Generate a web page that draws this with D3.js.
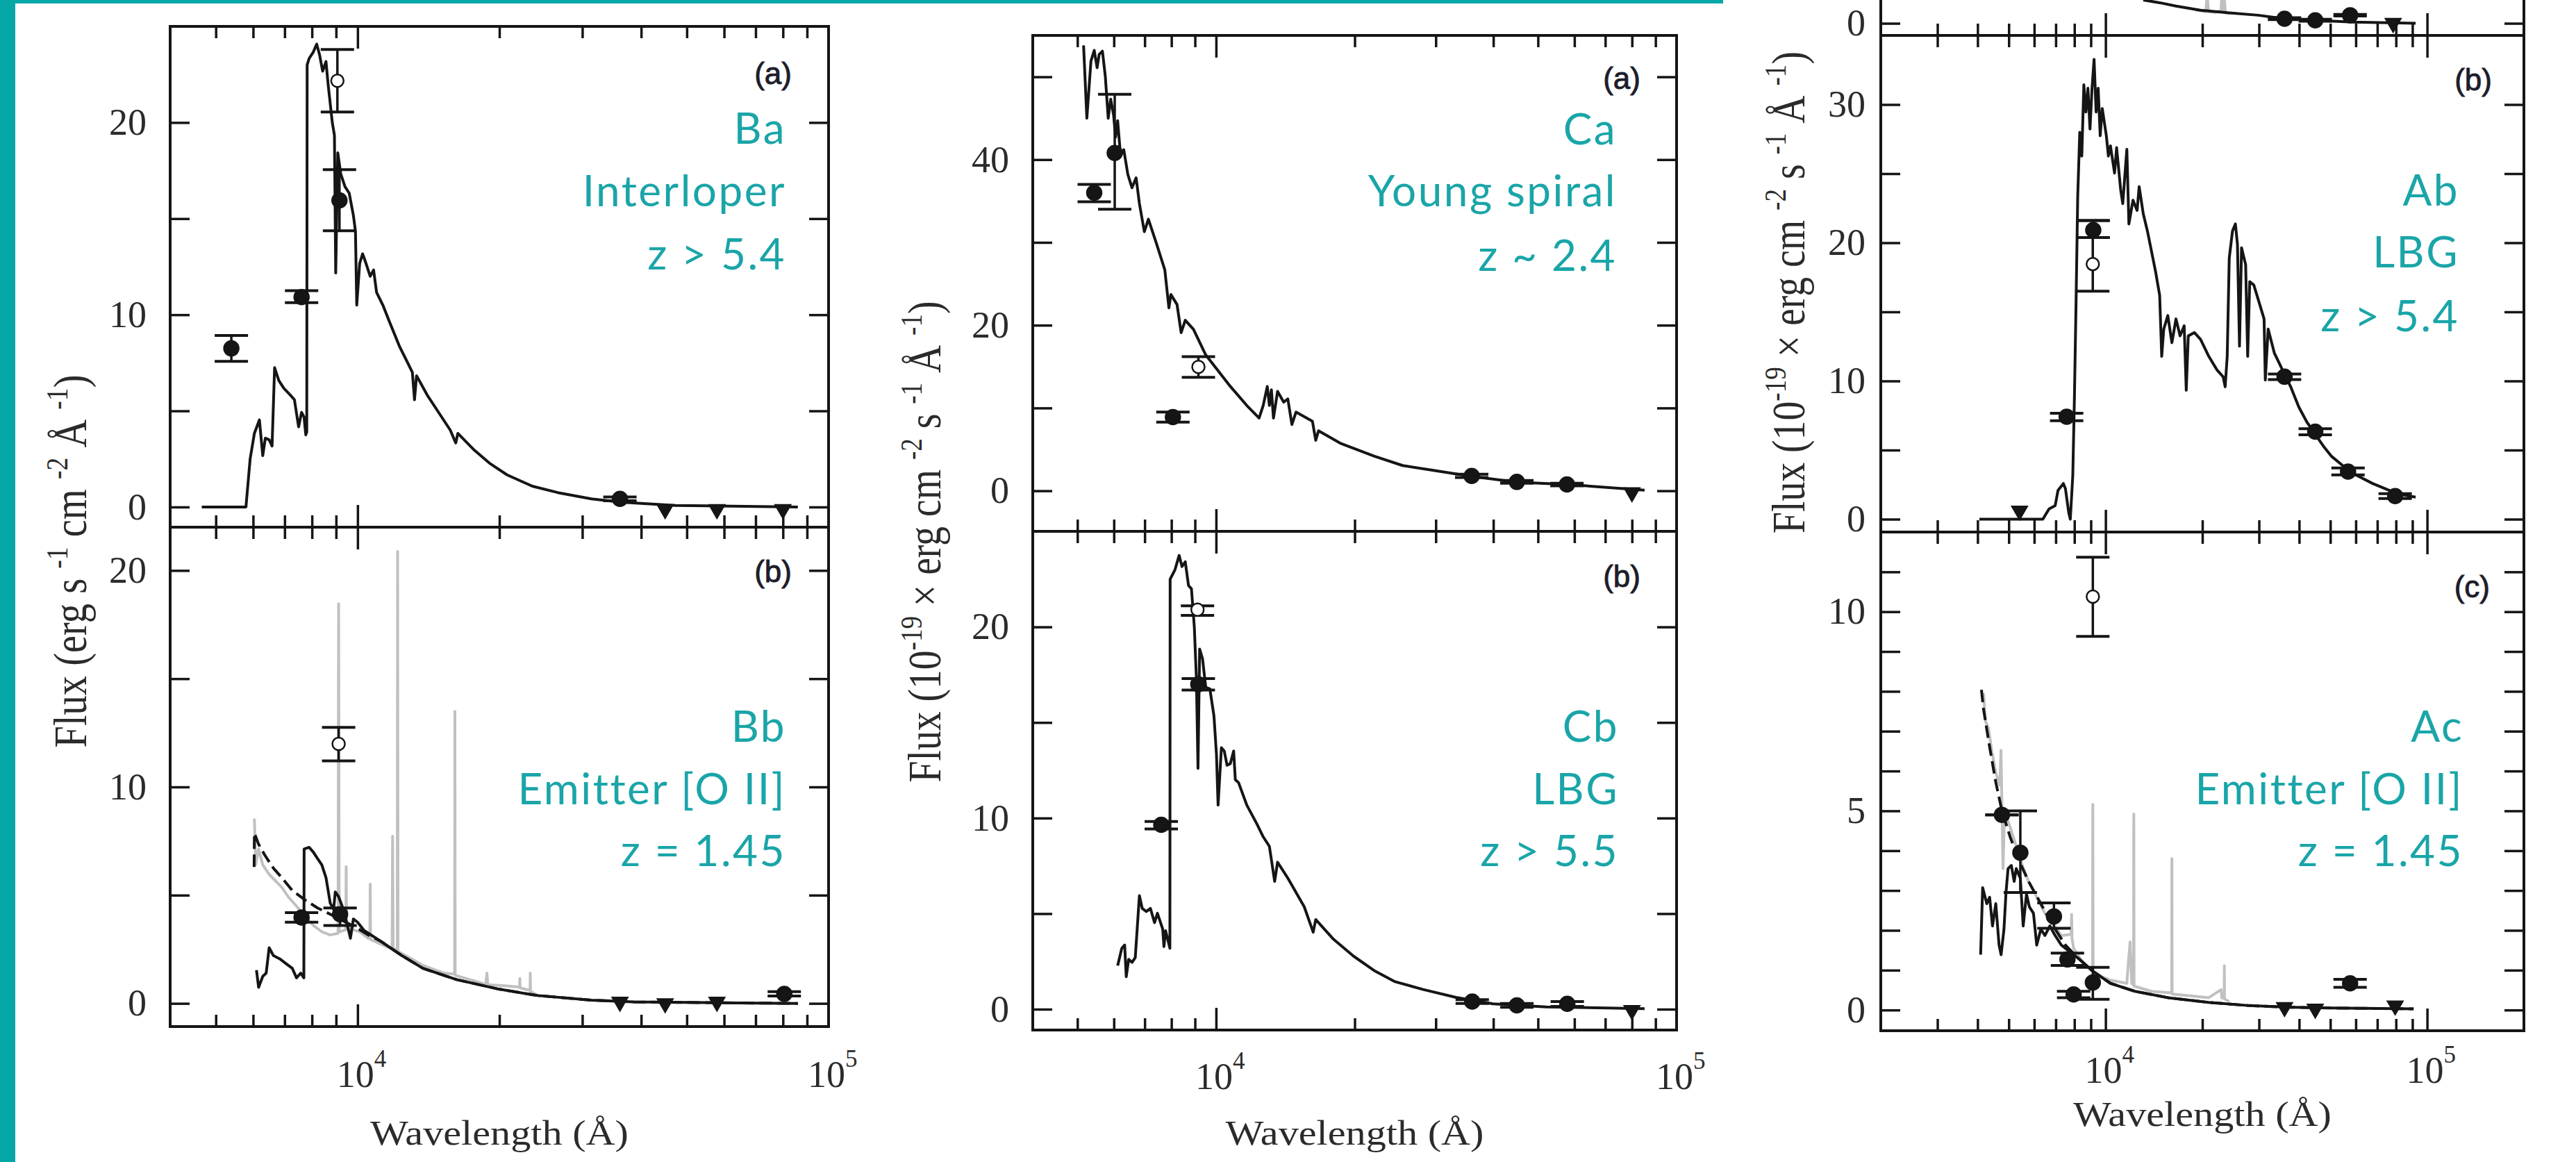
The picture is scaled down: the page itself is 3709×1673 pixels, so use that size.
<!DOCTYPE html>
<html>
<head>
<meta charset="utf-8">
<script src="https://cdn.jsdelivr.net/npm/d3@7"></script>
<style>
  html, body { margin: 0; padding: 0; background: #fff; overflow: hidden; }
  svg { display: block; }
</style>
</head>
<body>
<script>
"use strict";

// ---------- data: [wavelength (Å), flux] ----------
// panel B (left column)
const baModel = [[4668,0],[5794,0],[5914,2.5],[6038,3.83],[6188,4.53],[6290,2.67],[6370,3.58],[6490,3.5],[6583,3.17],[6665,7.25],[6804,6.58],[6975,6.17],[7194,5.83],[7343,5.58],[7495,4.17],[7604,4.92],[7699,4.67],[7762,3.75],[7800,3.9],[7815,23.0],[7890,23.33],[8055,23.67],[8188,24.08],[8308,23.5],[8430,22.67],[8569,23.17],[8657,22.0],[8837,20.0],[8930,19.33],[8986,12.17],[9078,18.42],[9210,17.33],[9401,16.67],[9597,16.33],[9797,15.17],[9897,14.33],[9959,10.5],[10103,12.67],[10250,13.17],[10420,12.67],[10637,12.0],[10815,12.33],[10972,11.17],[11316,10.5],[11670,9.67],[12287,8.33],[12674,7.67],[13072,7.0],[13208,5.58],[13342,6.83],[14049,5.83],[14943,4.83],[15732,4.0],[16159,3.33],[16326,3.83],[17620,3.0],[19130,2.25],[20773,1.67],[23503,1.08],[26600,0.75],[31360,0.42],[36224,0.25],[47354,0.08],[86050,0]];
const baPhot = [[5395,8.25,7.58,8.92],[7605,10.92,10.63,11.25],[9153,15.95,14.37,17.55],[36060,0.42,0.32,0.52]];
const baOpen = [[9060,22.17,20.55,23.8]];
const baLimits = [[44980,-0.12],[57940,-0.12],[80000,-0.12]];

const bbLbg = [[6100,1.54],[6164,0.74],[6290,1.25],[6396,1.4],[6490,2.57],[6625,2.21],[6833,2.06],[7047,1.84],[7267,1.62],[7419,1.18],[7573,1.4],[7690,1.18],[7700,7.13],[7890,7.21],[8055,6.99],[8222,6.69],[8395,6.4],[8569,5.81],[8748,4.63],[8893,4.34],[8967,5.15],[9115,4.93],[9305,4.41],[9497,3.68],[9656,3.01],[9797,3.9],[10000,3.75],[10313,3.38],[11200,2.87],[12413,2.21],[13762,1.62],[16227,1.1],[19935,0.66],[23993,0.37],[31360,0.15],[38535,0.07],[58190,0.03],[86050,0]];
const bbEmit = [[6030,6.3],[6038,7.87],[6164,7.35],[6357,6.84],[6625,6.25],[6902,5.81],[7267,5.22],[7731,4.78],[8222,4.41],[8748,4.12],[9305,3.82],[9897,3.53],[10529,3.16],[11200,2.87],[12413,2.21],[13762,1.62],[16227,1.1],[19935,0.66],[23993,0.37],[31360,0.15],[38535,0.07],[58190,0.03],[86050,0]];
const bbObs = [[6038,8.53],[6077,6.4],[6164,7.13],[6290,6.4],[6490,5.96],[6693,5.66],[6902,5.37],[7120,4.93],[7419,4.49],[7731,4.04],[8055,3.6],[8395,3.31],[8748,3.16],[9090,3.24],[9115,18.46],[9140,3.3],[9440,3.4],[9458,6.32],[9476,3.5],[10103,3.31],[10529,3.01],[10620,3.0],[10637,5.51],[10655,2.95],[11670,2.57],[11840,2.6],[11866,7.72],[11900,2.5],[12140,2.5],[12162,20.88],[12185,2.4],[13762,1.76],[15256,1.4],[16070,1.35],[16092,13.49],[16115,1.3],[18720,0.88],[18819,1.4],[18900,0.86],[20773,0.81],[22080,0.75],[22105,1.15],[22130,0.72],[23240,0.6],[23263,1.4],[23290,0.55],[24495,0.29]];
const bbPhot = [[7605,3.97,3.75,4.19],[9180,4.12,3.6,4.41],[80530,0.44,0.34,0.54]];
const bbOpen = [[9115,11.99,11.2,12.75]];
const bbLimits = [[36060,0.07],[44980,0.0],[57940,0.07]];

// panel C (middle column)
const caModel = [[5157,53.8],[5242,45.0],[5351,51.9],[5439,53.2],[5518,51.1],[5575,52.7],[5667,53.1],[5750,50.0],[5833,45.0],[5906,47.3],[5991,45.4],[6052,42.7],[6115,44.7],[6203,40.5],[6305,41.2],[6435,38.2],[6570,36.6],[6706,37.8],[6817,34.7],[6987,31.3],[7131,32.8],[7430,29.8],[7740,26.7],[7901,22.1],[7980,23.7],[8228,22.5],[8400,19.1],[8574,20.6],[8933,19.5],[9499,16.4],[10103,14.5],[10744,12.6],[11662,10.3],[12402,8.78],[12659,10.3],[12921,12.6],[13056,10.3],[13189,12.2],[13326,8.78],[13602,12.0],[14026,10.7],[14317,11.1],[14613,8.0],[14916,9.5],[16193,8.4],[16461,6.1],[16698,7.25],[18688,5.7],[22024,4.2],[25418,3.05],[29350,2.5],[36016,1.72],[45124,1.03],[57723,0.76],[85220,0.08]];
const caPhot = [[5439,36.0,34.9,37.0],[6026,40.8,34.0,47.9],[8061,8.9,8.3,9.5],[35900,1.79,1.6,2.0],[45000,1.07,0.9,1.25],[57800,0.76,0.6,0.9]];
const caOpen = [[9157,14.96,13.7,16.2]];
const caLimits = [[80000,-0.2]];

const cbModel = [[6115,2.28],[6243,3.19],[6333,3.36],[6383,1.7],[6461,2.61],[6570,2.45],[6678,2.7],[6817,5.94],[6915,5.27],[7057,5.11],[7204,5.27],[7353,4.53],[7460,5.02],[7660,4.19],[7707,3.28],[7771,4.11],[7940,3.19],[7950,22.5],[8147,23.0],[8316,23.74],[8435,23.16],[8574,23.41],[8716,22.16],[8843,22.0],[8971,20.0],[9064,17.34],[9138,12.6],[9213,18.84],[9346,18.34],[9499,16.84],[9697,16.76],[9897,15.34],[10021,13.34],[10103,10.68],[10271,13.68],[10418,13.51],[10568,12.76],[10744,12.85],[10921,13.51],[11011,12.01],[11194,11.85],[11662,10.68],[12274,9.68],[12659,9.02],[13056,8.52],[13406,6.69],[13602,7.69],[14317,6.86],[15541,5.36],[16255,4.03],[16461,4.69],[17937,3.69],[19877,2.78],[22024,2.03],[24399,1.45],[28168,1.03],[33189,0.62],[39912,0.28],[52095,0.12],[85220,0.03]];
const cbPhot = [[7605,9.65,9.43,9.82],[9153,17.0,16.7,17.3],[36000,0.4,0.3,0.5],[45000,0.2,0.1,0.3],[57900,0.28,0.15,0.4]];
const cbOpen = [[9115,20.9,20.6,21.1]];
const cbLimits = [[80000,-0.05]];

// panel A (right column)
const aaModel = [[13100,1.93],[14733,1.7],[16561,1.42],[19749,1.08],[24250,0.86],[29780,0.67],[36030,0.38],[44890,0.25],[58410,0.1],[92100,0]];
const aaObs = [[19000,1.1],[20500,0.95],[20700,2.4],[20900,0.95],[22000,0.9],[22870,1.1],[23000,2.4],[23200,1.0],[23410,2.0],[23600,0.85],[24500,0.8]];
const aaPhot = [[36030,0.38,0.3,0.46],[44890,0.25,0.17,0.33],[57620,0.67,0.6,0.74]];
const aaLimits = [[78400,0.02]];

const abModel = [[4052,0],[6385,0],[6479,0.25],[6673,0.74],[6972,0.98],[7116,2.09],[7393,2.58],[7503,2.21],[7681,0.49],[7770,0],[7910,3.19],[8003,8.84],[8097,15.71],[8193,23.32],[8313,27.99],[8436,26.27],[8561,31.43],[8688,29.46],[8815,31.18],[8946,28.23],[9078,31.18],[9211,33.27],[9348,29.46],[9486,31.18],[9625,27.74],[9768,29.71],[10058,27.74],[10207,26.27],[10358,27.01],[10666,25.04],[10824,26.88],[11146,23.82],[11312,22.83],[11648,26.76],[11820,21.36],[12173,23.08],[12536,22.34],[12722,24.06],[13100,22.1],[13490,20.87],[13892,19.4],[14306,17.92],[14733,16.2],[14950,11.78],[15172,13.75],[15617,14.73],[16083,12.77],[16561,14.49],[17054,13.26],[17562,13.99],[17822,9.33],[18084,13.26],[18898,13.5],[19749,13.01],[20941,11.78],[22206,10.8],[23205,10.31],[23550,9.58],[23897,11.78],[24250,18.9],[24826,20.87],[25340,21.36],[25716,19.89],[26097,12.52],[26480,19.64],[27270,18.41],[27670,11.78],[28080,17.19],[28915,16.94],[29780,15.96],[31117,14.49],[31390,10.07],[32040,13.75],[33480,12.03],[35500,10.8],[37650,9.58],[39930,8.1],[42340,7.0],[44890,6.14],[47610,5.28],[50480,4.54],[55120,3.81],[60190,3.19],[67700,2.58],[76130,2.09],[85620,1.72],[92100,1.6]];
const abPhot = [[7570,7.41,7.12,7.66],[9158,20.92,20.38,21.61],[36030,10.31,10.1,10.5],[44890,6.33,6.1,6.55],[56770,3.44,3.2,3.7],[79560,1.67,1.5,1.85]];
const abOpen = [[9127,18.46,16.5,21.61]];
const abLimits = [[5403,0.61]];

const acEmit = [[4112,8.04],[4173,7.56],[4361,6.6],[4557,5.72],[4762,5.0],[5049,4.35],[5355,3.79],[5761,3.23],[6292,2.67],[6870,2.11],[7503,1.63],[8193,1.31],[9211,0.95],[10358,0.67],[12350,0.47],[15617,0.31],[20941,0.19],[28080,0.11],[37650,0.07],[50480,0.05],[90780,0.03]];
const acLbg = [[4088,1.39],[4148,3.07],[4272,2.67],[4361,2.83],[4451,2.11],[4557,2.67],[4665,1.63],[4734,1.39],[4832,2.03],[4903,2.95],[4976,3.55],[5093,3.63],[5199,3.23],[5276,3.55],[5433,3.31],[5545,2.11],[5677,2.91],[5795,2.59],[5968,2.43],[6109,1.63],[6292,2.03],[6479,1.87],[6711,2.11],[6972,1.87],[7285,1.63],[7725,1.47],[8193,1.31],[9211,0.95],[10358,0.67],[12350,0.47],[15617,0.31],[20941,0.19],[28080,0.11],[37650,0.07],[50480,0.05],[90780,0.03]];
const acObs = [[4173,7.96],[4235,7.24],[4323,7.08],[4426,6.52],[4557,5.96],[4692,5.64],[4730,6.52],[4800,3.55],[4850,5.0],[5049,4.59],[5276,4.11],[5513,3.63],[5761,3.23],[6109,2.83],[6479,2.43],[6870,2.15],[7285,1.87],[7820,1.9],[7842,2.4],[7865,1.8],[7957,1.55],[8436,1.23],[8997,0.99],[9110,1.0],[9130,5.16],[9150,0.98],[9768,0.83],[10358,0.75],[11648,0.67],[11786,1.23],[11926,1.71],[12066,0.67],[12225,0.62],[12245,4.92],[12265,0.6],[13892,0.47],[16060,0.43],[16083,3.8],[16106,0.4],[18630,0.35],[20941,0.31],[22870,0.51],[23000,0.3],[23390,0.3],[23410,1.11],[23430,0.28],[24250,0.21]];
const acPhot = [[4762,4.9,4.9,4.9],[5433,3.95,2.95,5.0],[6911,2.35,2.05,2.69],[7613,1.27,1.12,1.43],[7957,0.39,0.31,0.47],[9131,0.69,0.27,1.07],[57620,0.67,0.57,0.77]];
const acOpen = [[9130,10.38,9.38,11.37]];
const acLimits = [[36030,0.07],[44890,0.03],[79560,0.11]];

// ticks
const xMinorBC = [5000,6000,7000,8000,9000,20000,30000,40000,50000,60000,70000,80000,90000];
const xMajorBC = [10000];
const xMinorA = [3000,4000,5000,6000,7000,8000,9000,20000,30000,40000,50000,60000,70000,80000,90000];
const xMajorA = [10000,100000];
const xLabelVals = [10000,100000];

// annotation text
const baText = ["Ba", "Interloper", "z > 5.4"];
const bbText = ["Bb", "Emitter [O II]", "z = 1.45"];
const caText = ["Ca", "Young spiral", "z ~ 2.4"];
const cbText = ["Cb", "LBG", "z > 5.5"];
const abText = ["Ab", "LBG", "z > 5.4"];
const acText = ["Ac", "Emitter [O II]", "z = 1.45"];

// ---------- drawing ----------
const W = 3709, H = 1673;
const INK = "#151515", GREY = "#c0c0c0", TEAL = "#1aa5a8", BAR = "#06a7a7";
const SERIF = "'Liberation Serif', 'Times New Roman', serif";

const svg = d3.select("body").append("svg")
    .attr("width", W)
    .attr("height", H);

svg.append("rect").attr("width", W).attr("height", H).attr("fill", "#fff");

const drawPanel = (p) => {
    const x = d3.scaleLog().domain(p.xDom).range([p.left, p.right]);
    const y = d3.scaleLinear().domain(p.yDom).range([p.bottom, p.top]);
    const g = svg.append("g");

    g.append("clipPath").attr("id", "clip" + p.name)
        .append("rect")
        .attr("x", p.left).attr("y", p.top)
        .attr("width", p.right - p.left).attr("height", p.bottom - p.top);

    const plot = g.append("g").attr("clip-path", `url(#clip${p.name})`);
    const line = d3.line().x(d => x(d[0])).y(d => y(d[1]));

    (p.grey || []).forEach(s => {
        plot.append("path").datum(s)
            .attr("d", line)
            .attr("fill", "none")
            .attr("stroke", GREY)
            .attr("stroke-width", 4)
            .attr("stroke-linejoin", "round");
    });

    p.models.forEach(m => {
        plot.append("path").datum(m.pts)
            .attr("d", line)
            .attr("fill", "none")
            .attr("stroke", INK)
            .attr("stroke-width", 4)
            .attr("stroke-linejoin", "round")
            .attr("stroke-dasharray", m.dash ? "18 8" : null);
    });

    // error bars with caps
    const all = p.phot.map(d => ({ d: d, open: false })).concat((p.open || []).map(d => ({ d: d, open: true })));
    all.forEach(o => {
        const [lam, f, lo, hi] = o.d;
        const cx = x(lam);
        plot.append("line")
            .attr("x1", cx).attr("x2", cx)
            .attr("y1", y(lo)).attr("y2", y(hi))
            .attr("stroke", INK).attr("stroke-width", 3.5);
        [lo, hi].forEach(v => {
            plot.append("line")
                .attr("x1", cx - 24).attr("x2", cx + 24)
                .attr("y1", y(v)).attr("y2", y(v))
                .attr("stroke", INK).attr("stroke-width", 4);
        });
    });
    all.forEach(o => {
        const [lam, f] = o.d;
        plot.append("circle")
            .attr("cx", x(lam)).attr("cy", y(f))
            .attr("r", o.open ? 9 : 10.5)
            .attr("fill", o.open ? "#fff" : INK)
            .attr("stroke", INK).attr("stroke-width", 2.5);
    });

    // upper limits
    plot.selectAll(".lim")
        .data(p.limits || [])
        .enter()
        .append("path")
        .attr("d", d3.symbol().type(d3.symbolTriangle).size(290))
        .attr("transform", d => `translate(${x(d[0])},${y(d[1])}) rotate(180)`)
        .attr("fill", INK);

    // axes (ticks point inward on all four sides)
    const addAxis = (gen, tx, ty) => {
        const a = g.append("g").attr("transform", `translate(${tx},${ty})`).call(gen);
        a.select(".domain").remove();
        a.selectAll("line").attr("stroke", INK).attr("stroke-width", 3.5);
        return a;
    };
    addAxis(d3.axisBottom(x).tickValues(p.xMinor).tickSize(-17).tickFormat(""), 0, p.bottom);
    addAxis(d3.axisBottom(x).tickValues(p.xMajor).tickSize(-32).tickFormat(""), 0, p.bottom);
    addAxis(d3.axisTop(x).tickValues(p.xMinor).tickSize(-17).tickFormat(""), 0, p.top);
    addAxis(d3.axisTop(x).tickValues(p.xMajor).tickSize(-32).tickFormat(""), 0, p.top);

    const yl = addAxis(d3.axisLeft(y).tickValues(p.yTicks).tickSize(-28).tickPadding(p.labelGap)
        .tickFormat(v => p.yLabels.includes(v) ? v : ""), p.left, 0);
    yl.selectAll("text")
        .attr("font-family", SERIF)
        .attr("font-size", 54)
        .attr("fill", "#2b2b2b");
    addAxis(d3.axisRight(y).tickValues(p.yTicks).tickSize(-28).tickFormat(""), p.right, 0);

    g.append("rect")
        .attr("x", p.left).attr("y", p.top)
        .attr("width", p.right - p.left).attr("height", p.bottom - p.top)
        .attr("fill", "none").attr("stroke", INK).attr("stroke-width", 4);

    // x tick labels (10^4, 10^5) on the bottom panel of each column
    if (p.xLabelY) {
        xLabelVals.forEach(v => {
            const t = g.append("text")
                .attr("x", x(v) - 30)
                .attr("y", p.xLabelY)
                .attr("font-family", SERIF)
                .attr("font-size", 54)
                .attr("fill", "#2b2b2b")
                .text("10");
            t.append("tspan")
                .attr("dy", -29)
                .attr("font-size", 35)
                .text(Math.round(Math.log10(v)));
        });
        g.append("text")
            .attr("x", (p.left + p.right) / 2)
            .attr("y", p.xTitleY)
            .attr("text-anchor", "middle")
            .attr("font-family", SERIF)
            .attr("font-size", 50)
            .attr("fill", "#2b2b2b")
            .attr("textLength", 372)
            .attr("lengthAdjust", "spacingAndGlyphs")
            .text("Wavelength (Å)");
    }

    if (p.tag) {
        g.append("text")
            .attr("x", p.tag.x).attr("y", p.tag.y)
            .attr("text-anchor", "end")
            .attr("font-family", "'Liberation Sans', Arial, sans-serif")
            .attr("font-size", 44)
            .attr("fill", "#1d1d2b")
            .attr("stroke", "#1d1d2b")
            .attr("stroke-width", 0.9)
            .text(p.tag.text);
    }

    if (p.note) {
        p.note.lines.forEach((s, i) => {
            g.append("text")
                .attr("x", p.note.x)
                .attr("y", p.note.ys[i])
                .attr("text-anchor", "end")
                .attr("font-family", "Lato, 'Noto Sans', sans-serif")
                .attr("font-size", 62)
                .attr("letter-spacing", 2.5)
                .attr("fill", TEAL)
                .text(s);
        });
    }
};

const colB = { left: 245, right: 1193, xDom: [4000, 100000], xMinor: xMinorBC, xMajor: xMajorBC, labelGap: 34 };
const colC = { left: 1487, right: 2414, xDom: [4000, 100000], xMinor: xMinorBC, xMajor: xMajorBC, labelGap: 34 };
const colA = { left: 2708, right: 3634, xDom: [2000, 200000], xMinor: xMinorA, xMajor: xMajorA, labelGap: 22 };

drawPanel(Object.assign({}, colB, {
    name: "Ba", top: 38, bottom: 759, yDom: [-1.05, 25],
    yTicks: [0, 5, 10, 15, 20], yLabels: [0, 10, 20],
    models: [{ pts: baModel }], phot: baPhot, open: baOpen, limits: baLimits,
    tag: { text: "(a)", x: 1140, y: 121 },
    note: { lines: baText, x: 1132, ys: [207, 297, 388] }
}));
drawPanel(Object.assign({}, colB, {
    name: "Bb", top: 759, bottom: 1478, yDom: [-1.07, 22],
    yTicks: [0, 5, 10, 15, 20], yLabels: [0, 10, 20],
    grey: [bbObs],
    models: [{ pts: bbEmit, dash: true }, { pts: bbLbg }], phot: bbPhot, open: bbOpen, limits: bbLimits,
    tag: { text: "(b)", x: 1140, y: 838 },
    note: { lines: bbText, x: 1132, ys: [1068, 1158, 1247] },
    xLabelY: 1565, xTitleY: 1648
}));
drawPanel(Object.assign({}, colC, {
    name: "Ca", top: 51, bottom: 765, yDom: [-4.9, 55],
    yTicks: [0, 10, 20, 30, 40, 50], yLabels: [0, 20, 40],
    models: [{ pts: caModel }], phot: caPhot, open: caOpen, limits: caLimits,
    tag: { text: "(a)", x: 2362, y: 128 },
    note: { lines: caText, x: 2328, ys: [208, 297, 390] }
}));
drawPanel(Object.assign({}, colC, {
    name: "Cb", top: 765, bottom: 1483, yDom: [-1.09, 25],
    yTicks: [0, 5, 10, 15, 20], yLabels: [0, 10, 20],
    models: [{ pts: cbModel }], phot: cbPhot, open: cbOpen, limits: cbLimits,
    tag: { text: "(b)", x: 2362, y: 845 },
    note: { lines: cbText, x: 2331, ys: [1068, 1158, 1247] },
    xLabelY: 1568, xTitleY: 1648
}));
drawPanel(Object.assign({}, colA, {
    name: "Aa", top: -664, bottom: 51, yDom: [-1, 40],
    yTicks: [0, 5, 10, 15, 20, 25, 30, 35], yLabels: [0],
    grey: [aaObs],
    models: [{ pts: aaModel }], phot: aaPhot, limits: aaLimits
}));
drawPanel(Object.assign({}, colA, {
    name: "Ab", top: 51, bottom: 766, yDom: [-0.93, 35],
    yTicks: [0, 5, 10, 15, 20, 25, 30], yLabels: [0, 10, 20, 30],
    models: [{ pts: abModel }], phot: abPhot, open: abOpen, limits: abLimits,
    tag: { text: "(b)", x: 3588, y: 130 },
    note: { lines: abText, x: 3541, ys: [296, 385, 477] }
}));
drawPanel(Object.assign({}, colA, {
    name: "Ac", top: 766, bottom: 1484, yDom: [-0.52, 12],
    yTicks: [0, 1, 2, 3, 4, 5, 6, 7, 8, 9, 10, 11], yLabels: [0, 5, 10],
    grey: [acObs],
    models: [{ pts: acEmit, dash: true }, { pts: acLbg }], phot: acPhot, open: acOpen, limits: acLimits,
    tag: { text: "(c)", x: 3585, y: 860 },
    note: { lines: acText, x: 3547, ys: [1068, 1158, 1247] },
    xLabelY: 1559, xTitleY: 1621
}));

// rotated y titles (the source figure is slightly stretched sideways)
const yTitle = (bx, cy, len, parts) => {
    const t = svg.append("text")
        .attr("transform", `translate(${bx},${cy}) scale(1.25,1) rotate(-90)`)
        .attr("text-anchor", "middle")
        .attr("font-family", SERIF)
        .attr("font-size", 54)
        .attr("fill", "#2b2b2b")
        .attr("textLength", len)
        .attr("lengthAdjust", "spacingAndGlyphs");
    let raised = false;
    parts.forEach(([s, sup]) => {
        const dy = sup && !raised ? -22 : (!sup && raised ? 22 : 0);
        raised = sup;
        t.append("tspan")
            .attr("dy", dy)
            .attr("font-size", sup ? 36 : 54)
            .text(s);
    });
};
yTitle(124, 808, 537, [["Flux (erg s ", false], ["-1", true], [" cm ", false], ["-2", true], [" Å ", false], ["-1", true], [")", false]]);
const fluxScaled = [["Flux (10", false], ["-19", true], [" × erg cm ", false], ["-2", true], [" s ", false], ["-1", true], [" Å ", false], ["-1", true], [")", false]];
yTitle(1354, 780, 693, fluxScaled);
yTitle(2598, 421, 694, fluxScaled);

// teal slide decorations
svg.append("rect").attr("x", 0).attr("y", 0).attr("width", 22).attr("height", H).attr("fill", BAR);
svg.append("rect").attr("x", 0).attr("y", 0).attr("width", 2481).attr("height", 5).attr("fill", BAR);
</script>
</body>
</html>
